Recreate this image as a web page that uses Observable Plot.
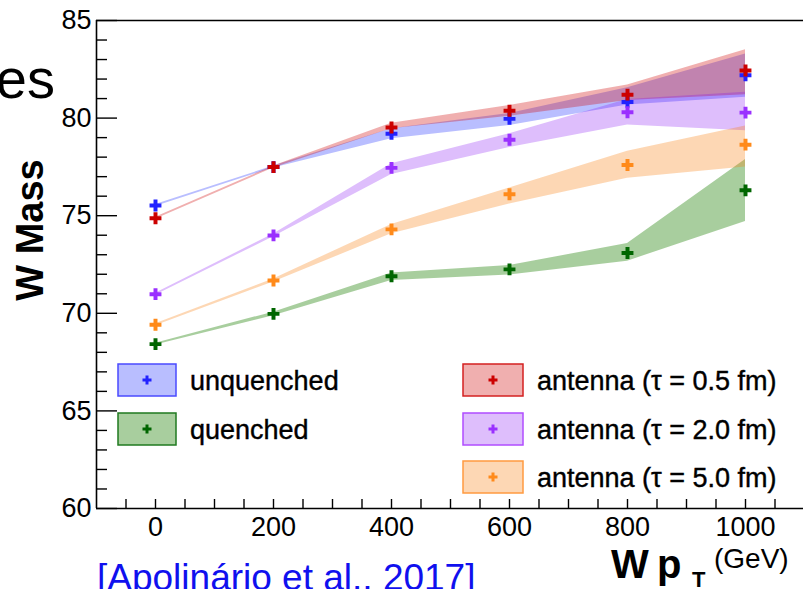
<!DOCTYPE html>
<html><head><meta charset="utf-8">
<script src="https://cdn.jsdelivr.net/npm/d3@7"></script>
<script src="https://cdn.jsdelivr.net/npm/@observablehq/plot@0.6"></script>
<style>
body{margin:0;background:#fff;}
#wrap{position:relative;width:803px;height:589px;overflow:hidden;font-family:"Liberation Sans",Arial,sans-serif;}
</style></head><body><div id="wrap"></div>
<script>
// ---- data ----
const ptBins = [0, 200, 400, 600, 800, 1000];
const seriesNames = ["unquenched", "quenched", "antenna (τ = 0.5 fm)", "antenna (τ = 2.0 fm)", "antenna (τ = 5.0 fm)"];
const unquenchedVal = [75.52, 77.49, 79.20, 79.96, 80.83, 82.19];
const unquenchedLo  = [75.47, 77.44, 78.94, 79.62, 80.67, 81.07];
const unquenchedHi  = [75.57, 77.54, 79.45, 80.24, 81.55, 83.29];
const quenchedVal = [68.42, 69.97, 71.90, 72.25, 73.09, 76.30];
const quenchedLo  = [68.37, 69.88, 71.68, 71.96, 72.67, 74.70];
const quenchedHi  = [68.47, 70.06, 72.07, 72.45, 73.57, 77.88];
const tau05Val = [74.87, 77.49, 79.52, 80.38, 81.20, 82.44];
const tau05Lo  = [74.82, 77.44, 79.45, 80.10, 80.90, 81.20];
const tau05Hi  = [74.92, 77.54, 79.74, 80.64, 81.70, 83.50];
const tau20Val = [70.98, 73.99, 77.45, 78.89, 80.30, 80.28];
const tau20Lo  = [70.93, 73.92, 77.11, 78.50, 79.65, 79.35];
const tau20Hi  = [71.03, 74.06, 77.66, 79.20, 80.95, 81.33];
const tau50Val = [69.41, 71.68, 74.30, 76.10, 77.60, 78.64];
const tau50Lo  = [69.36, 71.60, 74.07, 75.60, 76.92, 77.50];
const tau50Hi  = [69.46, 71.76, 74.55, 76.42, 78.30, 79.60];
const xTickLabels = [0, 200, 400, 600, 800, 1000];
const yTickLabels = [60, 65, 70, 75, 80, 85];
const xDomain = [-100, 1100];
const yDomain = [60, 85];

// ---- styles ----
const pointColors = ["#2222ff", "#006600", "#cc0000", "#9a30ff", "#ff8a1a"];
const bandColors  = ["rgb(5,23,255)", "rgb(38,133,13)", "rgb(210,12,12)", "rgb(128,5,243)", "rgb(248,122,5)"];
const bandAlpha   = [0.28, 0.40, 0.33, 0.26, 0.30];
const boxFill     = ["#b9beff", "#a8ce9e", "#f0afaf", "#debefc", "#fdd7b4"];
const boxStroke   = ["#4a4aff", "#1f7a1f", "#d42020", "#b04cff", "#ff9a40"];

const vals = [unquenchedVal, quenchedVal, tau05Val, tau20Val, tau50Val];
const los  = [unquenchedLo, quenchedLo, tau05Lo, tau20Lo, tau50Lo];
const his  = [unquenchedHi, quenchedHi, tau05Hi, tau20Hi, tau50Hi];
const rows = [];
seriesNames.forEach((s, i) => ptBins.forEach((x, j) => rows.push({s, i, x, v: vals[i][j], lo: los[i][j], hi: his[i][j]})));

const W = 803, H = 589;
const mL = 96, mT = 20, mB = 81, mR = 0;
const frameW = W - mL - mR, frameH = H - mT - mB;

const yMinor = d3.range(yDomain[0], yDomain[1] + 0.5, 1).filter(d => d % 5 !== 0);
const yMajor = d3.range(yDomain[0], yDomain[1] + 0.5, 5);
const xMinor = d3.range(-50, 1100, 50);

const bandMarks = seriesNames.map((s, i) =>
  Plot.areaY(rows.filter(r => r.i === i), {x: "x", y1: "lo", y2: "hi", fill: bandColors[i], fillOpacity: bandAlpha[i]}));
const dotMarks = seriesNames.map((s, i) =>
  Plot.dot(rows.filter(r => r.i === i), {x: "x", y: "v", symbol: "cross", r: 5, fill: pointColors[i]}));

const chart = Plot.plot({
  width: W, height: H,
  marginLeft: mL, marginTop: mT, marginBottom: mB, marginRight: mR,
  style: {fontFamily: "Liberation Sans, Arial, sans-serif", background: "transparent"},
  x: {domain: xDomain, range: [96, 804]},
  y: {domain: yDomain},
  marks: [
    ...bandMarks,
    ...dotMarks,
    Plot.tickY(yMinor, {y: d => d, stroke: "black", strokeWidth: 1.4, insetRight: frameW - 11}),
    Plot.tickY(yMajor, {y: d => d, stroke: "black", strokeWidth: 1.4, insetRight: frameW - 21}),
    Plot.tickX(xMinor, {x: d => d, stroke: "black", strokeWidth: 1.4, insetTop: frameH - 9}),
    Plot.ruleY([yDomain[0], yDomain[1]], {stroke: "black", strokeWidth: 1.6}),
    Plot.ruleX([xDomain[0]], {stroke: "black", strokeWidth: 1.6}),
    Plot.axisY(yTickLabels, {tickSize: 0, tickPadding: 5, fontSize: 27, label: null, fill: "black", stroke: "black", strokeWidth: 0.4, tickFormat: d => String(d)}),
    Plot.axisX(xTickLabels, {tickSize: 0, tickPadding: 8, fontSize: 27, label: null, fill: "black", stroke: "black", strokeWidth: 0.4, tickFormat: d => String(d)})
  ]
});
document.getElementById("wrap").appendChild(chart);

// ---- annotations & legend ----
const svg = d3.select(chart);
const g = svg.append("g").attr("font-family", "Liberation Sans, Arial, sans-serif").attr("text-anchor", "start");

g.append("text").attr("transform", "translate(30,230) rotate(-90)")
  .attr("text-anchor", "middle").attr("dominant-baseline", "central")
  .attr("font-size", 38).attr("font-weight", "bold").text("W Mass");

g.append("text").attr("x", 611).attr("y", 578).attr("font-size", 40).attr("font-weight", "bold").text("W");
g.append("text").attr("x", 657).attr("y", 578).attr("font-size", 40).attr("font-weight", "bold").text("p");
g.append("text").attr("x", 692).attr("y", 587).attr("font-size", 22).attr("font-weight", "bold").text("T");
g.append("text").attr("x", 714).attr("y", 568).attr("font-size", 28).text("(GeV)");

g.append("text").attr("x", 55).attr("y", 98).attr("text-anchor", "end").attr("font-size", 56).text("es");
g.append("text").attr("x", 97).attr("y", 590).attr("font-size", 37).attr("fill", "#1010ee").text("[Apolinário et al., 2017]");

const legendItems = [
  {i: 0, bx: 118, by: 364, bw: 58, tx: 190},
  {i: 1, bx: 118, by: 413, bw: 58, tx: 190},
  {i: 2, bx: 463, by: 364, bw: 60, tx: 537},
  {i: 3, bx: 463, by: 413, bw: 60, tx: 537},
  {i: 4, bx: 463, by: 461, bw: 60, tx: 537}
];
const cross = d3.symbol(d3.symbolCross, 45);
legendItems.forEach(L => {
  g.append("rect").attr("x", L.bx).attr("y", L.by).attr("width", L.bw).attr("height", 32)
    .attr("fill", boxFill[L.i]).attr("stroke", boxStroke[L.i]).attr("stroke-width", 1.5);
  g.append("path").attr("d", cross()).attr("transform", `translate(${L.bx + L.bw / 2},${L.by + 16})`).attr("fill", pointColors[L.i]);
  g.append("text").attr("x", L.tx).attr("y", L.by + 17).attr("dominant-baseline", "central")
    .attr("font-size", 27).attr("stroke", "black").attr("stroke-width", 0.4).text(seriesNames[L.i]);
});
</script></body></html>
